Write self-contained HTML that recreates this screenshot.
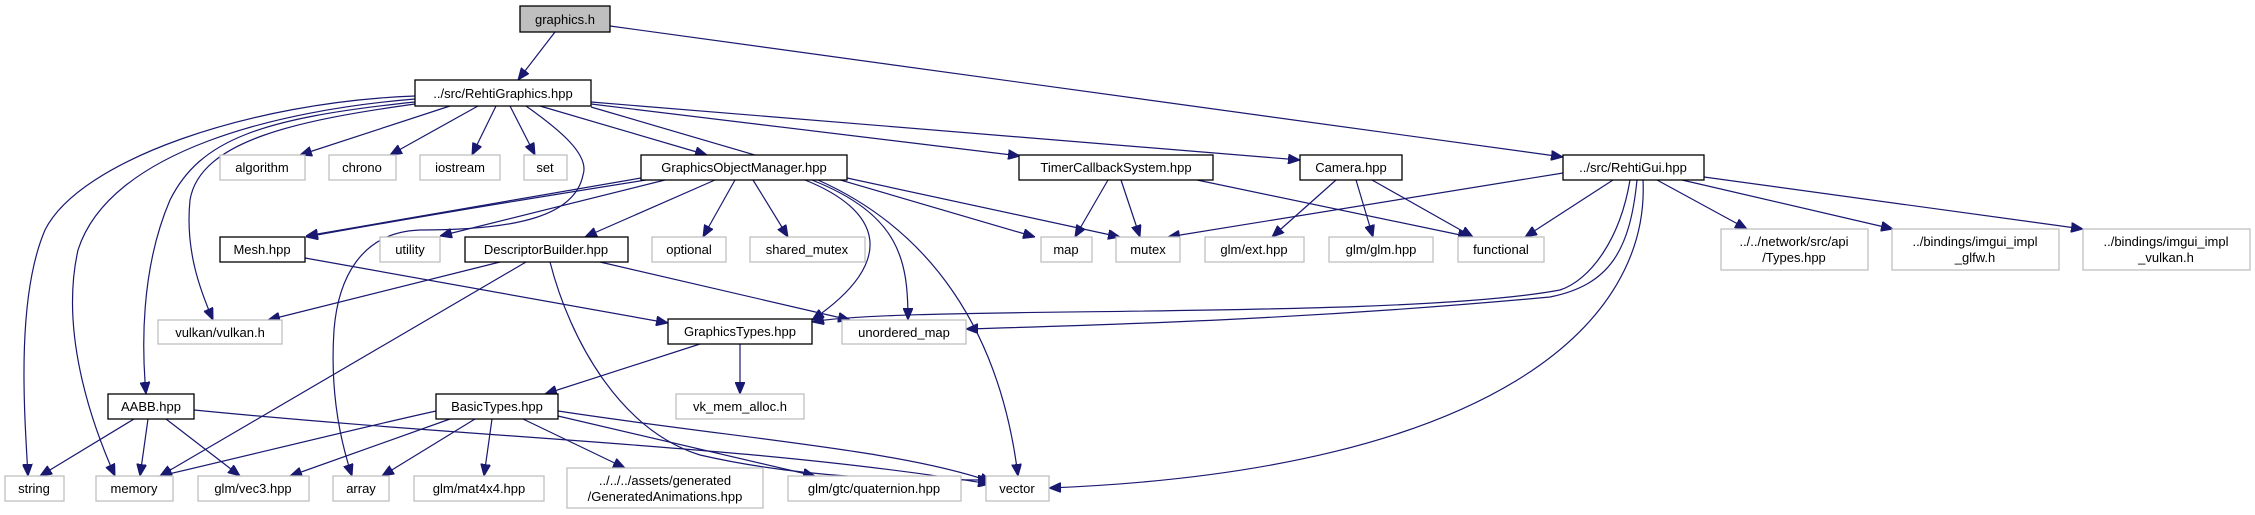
<!DOCTYPE html>
<html><head><meta charset="utf-8"><style>
html,body{margin:0;padding:0;background:#fff;}
svg{display:block;}
text{font-family:"Liberation Sans",sans-serif;font-size:13px;fill:#000;text-anchor:middle;}
.d{fill:#fff;stroke:#000;stroke-width:1.3;}
.e{fill:#fff;stroke:#bfbfbf;stroke-width:1.3;}
.g{fill:#bfbfbf;stroke:#000;stroke-width:1.3;}
path{fill:none;stroke:#191970;stroke-width:1.2;}
</style></head><body>
<svg width="2255" height="515" viewBox="0 0 2255 515" xmlns="http://www.w3.org/2000/svg">
<defs><marker id="a" markerUnits="userSpaceOnUse" markerWidth="12" markerHeight="10" refX="12" refY="5" orient="auto"><polygon points="0,0 12,5 0,10" fill="#191970" stroke="#191970"/></marker></defs>
<g marker-end="url(#a)">
<path d="M555,32 L518,80"/>
<path d="M610,26 L1563,157"/>
<path d="M450,106 L300,155"/>
<path d="M478,106 L390,155"/>
<path d="M496,106 L472,155"/>
<path d="M510,106 L535,155"/>
<path d="M540,106 L707,155"/>
<path d="M591,104 L1020,156"/>
<path d="M591,102 L1300,160"/>
<path d="M591,107 L1035,237"/>
<path d="M415,96 C250,102 80,160 45,230 C15,300 25,420 28,476"/>
<path d="M415,99 C280,110 110,150 78,250 C60,330 90,420 115,476"/>
<path d="M415,102 C260,118 200,140 170,200 C140,270 142,350 146,394"/>
<path d="M415,104 C300,120 200,140 190,200 C185,250 200,290 213,320"/>
<path d="M526,106 C560,130 590,155 583,175 C575,215 520,230 420,230 C360,232 338,280 334,330 C330,390 340,440 352,476"/>
<path d="M641,178 L306,236"/>
<path d="M646,180 C520,200 400,220 306,237"/>
<path d="M665,180 L440,236"/>
<path d="M715,180 L585,237"/>
<path d="M735,180 L703,237"/>
<path d="M753,180 L788,237"/>
<path d="M847,178 L1120,237"/>
<path d="M805,180 C880,210 900,260 812,320"/>
<path d="M812,180 C900,215 908,260 908,320"/>
<path d="M818,180 C930,230 1000,330 1018,476"/>
<path d="M1108,180 L1075,237"/>
<path d="M1121,180 L1140,237"/>
<path d="M1197,180 L1470,237"/>
<path d="M1336,180 L1272,237"/>
<path d="M1356,180 L1373,237"/>
<path d="M1372,180 L1473,237"/>
<path d="M1563,173 L1168,237"/>
<path d="M1613,180 L1525,237"/>
<path d="M1657,180 L1747,229"/>
<path d="M1682,180 L1893,229"/>
<path d="M1704,177 L2083,229"/>
<path d="M1630,180 C1620,240 1590,280 1560,290 C1400,320 900,305 812,322"/>
<path d="M1637,180 C1630,250 1610,285 1550,297 C1300,320 1100,325 966,329"/>
<path d="M1643,180 C1650,320 1500,470 1049,488"/>
<path d="M305,258 L668,323"/>
<path d="M500,262 L268,320"/>
<path d="M526,262 L160,476"/>
<path d="M550,262 C570,340 620,430 700,455 C800,478 900,480 990,480"/>
<path d="M600,262 L850,320"/>
<path d="M700,344 L545,394"/>
<path d="M740,344 L740,394"/>
<path d="M134,419 L40,476"/>
<path d="M148,419 L140,476"/>
<path d="M166,419 L240,476"/>
<path d="M194,410 C500,440 750,445 990,484"/>
<path d="M436,411 C350,430 230,460 160,476"/>
<path d="M450,419 L290,476"/>
<path d="M475,419 L382,476"/>
<path d="M492,419 L484,476"/>
<path d="M523,419 L625,468"/>
<path d="M558,416 L815,476"/>
<path d="M558,411 C750,440 900,450 992,482"/>
</g>
<rect class="g" x="520" y="6" width="90" height="26"/><text x="565" y="24">graphics.h</text>
<rect class="d" x="415" y="80" width="176" height="26"/><text x="503" y="98">../src/RehtiGraphics.hpp</text>
<rect class="e" x="220" y="155" width="85" height="25"/><text x="262" y="172">algorithm</text>
<rect class="e" x="329" y="155" width="67" height="25"/><text x="362" y="172">chrono</text>
<rect class="e" x="420" y="155" width="80" height="25"/><text x="460" y="172">iostream</text>
<rect class="e" x="524" y="155" width="43" height="25"/><text x="545" y="172">set</text>
<rect class="d" x="641" y="155" width="206" height="25"/><text x="744" y="172">GraphicsObjectManager.hpp</text>
<rect class="d" x="1019" y="155" width="194" height="25"/><text x="1116" y="172">TimerCallbackSystem.hpp</text>
<rect class="d" x="1300" y="155" width="102" height="25"/><text x="1351" y="172">Camera.hpp</text>
<rect class="d" x="1563" y="155" width="141" height="25"/><text x="1633" y="172">../src/RehtiGui.hpp</text>
<rect class="d" x="220" y="237" width="85" height="25"/><text x="262" y="254">Mesh.hpp</text>
<rect class="e" x="380" y="237" width="60" height="25"/><text x="410" y="254">utility</text>
<rect class="d" x="465" y="237" width="163" height="25"/><text x="546" y="254">DescriptorBuilder.hpp</text>
<rect class="e" x="652" y="237" width="74" height="25"/><text x="689" y="254">optional</text>
<rect class="e" x="750" y="237" width="115" height="25"/><text x="807" y="254">shared_mutex</text>
<rect class="e" x="1041" y="237" width="51" height="25"/><text x="1066" y="254">map</text>
<rect class="e" x="1116" y="237" width="64" height="25"/><text x="1148" y="254">mutex</text>
<rect class="e" x="1205" y="237" width="99" height="25"/><text x="1254" y="254">glm/ext.hpp</text>
<rect class="e" x="1329" y="237" width="104" height="25"/><text x="1381" y="254">glm/glm.hpp</text>
<rect class="e" x="1458" y="237" width="86" height="25"/><text x="1501" y="254">functional</text>
<rect class="e" x="1721" y="229" width="147" height="41"/><text x="1794" y="246">../../network/src/api</text><text x="1794" y="262">/Types.hpp</text>
<rect class="e" x="1892" y="229" width="167" height="41"/><text x="1975" y="246">../bindings/imgui_impl</text><text x="1975" y="262">_glfw.h</text>
<rect class="e" x="2083" y="229" width="167" height="41"/><text x="2166" y="246">../bindings/imgui_impl</text><text x="2166" y="262">_vulkan.h</text>
<rect class="e" x="158" y="320" width="124" height="24"/><text x="220" y="337">vulkan/vulkan.h</text>
<rect class="d" x="668" y="319" width="144" height="25"/><text x="740" y="336">GraphicsTypes.hpp</text>
<rect class="e" x="842" y="320" width="124" height="24"/><text x="904" y="337">unordered_map</text>
<rect class="d" x="108" y="394" width="86" height="25"/><text x="151" y="411">AABB.hpp</text>
<rect class="d" x="436" y="394" width="122" height="25"/><text x="497" y="411">BasicTypes.hpp</text>
<rect class="e" x="676" y="394" width="128" height="25"/><text x="740" y="411">vk_mem_alloc.h</text>
<rect class="e" x="5" y="476" width="59" height="25"/><text x="34" y="493">string</text>
<rect class="e" x="96" y="476" width="77" height="25"/><text x="134" y="493">memory</text>
<rect class="e" x="198" y="476" width="111" height="25"/><text x="253" y="493">glm/vec3.hpp</text>
<rect class="e" x="333" y="476" width="56" height="25"/><text x="361" y="493">array</text>
<rect class="e" x="414" y="476" width="130" height="25"/><text x="479" y="493">glm/mat4x4.hpp</text>
<rect class="e" x="567" y="468" width="196" height="40"/><text x="665" y="485">../../../assets/generated</text><text x="665" y="501">/GeneratedAnimations.hpp</text>
<rect class="e" x="788" y="476" width="173" height="25"/><text x="874" y="493">glm/gtc/quaternion.hpp</text>
<rect class="e" x="986" y="476" width="63" height="25"/><text x="1017" y="493">vector</text>
</svg>
</body></html>
